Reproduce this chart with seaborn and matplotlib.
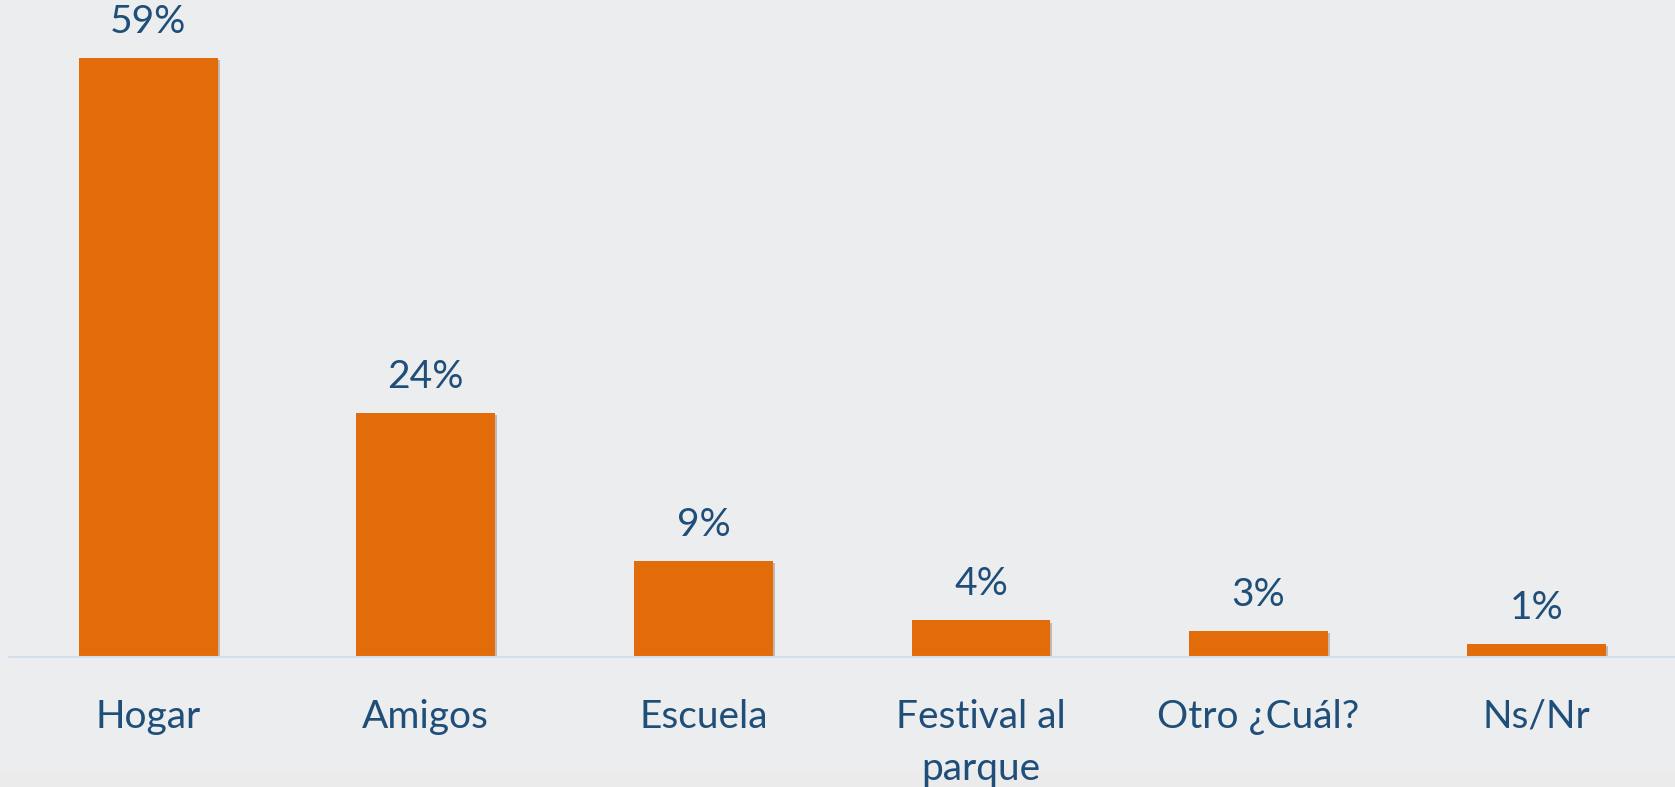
import matplotlib
matplotlib.use("Agg")
import matplotlib.pyplot as plt
import matplotlib.patheffects as pe
from matplotlib.patches import Rectangle
import seaborn as sns
import pandas as pd

categories = ["Hogar", "Amigos", "Escuela", "Festival al\nparque", "Otro ¿Cuál?", "Ns/Nr"]
values = [59, 24, 9.5, 3.6, 2.6, 1.3]
labels = ["59%", "24%", "9%", "4%", "3%", "1%"]

bg = "#ECEDEF"
bar_color = "#E36C0A"
text_color = "#1F4E79"

sns.set_theme(style="white")
plt.rcParams["font.family"] = ["Lato", "DejaVu Sans"]

fig = plt.figure(figsize=(16.75, 7.87), dpi=100, facecolor=bg)
fig.patches.append(Rectangle((0, 0), 1, 17 / 787, transform=fig.transFigure,
                             facecolor="#EBEBEC", edgecolor="none", zorder=-1))
ax = fig.add_axes([0.0056, 1 - 657 / 787, 0.9944, 657 / 787])
ax.set_facecolor("none")

df = pd.DataFrame({"cat": categories, "val": values})
sns.barplot(data=df, x="cat", y="val", color=bar_color, width=0.5, ax=ax,
            saturation=1, edgecolor="none")

for p in ax.patches:
    p.set_path_effects([pe.SimplePatchShadow(offset=(1.5, -1.5), alpha=0.25), pe.Normal()])

for i, (v, lab) in enumerate(zip(values, labels)):
    ax.annotate(lab, (i, v), xytext=(0, 18), textcoords="offset points",
                ha="center", va="baseline", fontsize=28, color=text_color)

ax.set_xlim(-0.5, 5.5)
ax.set_ylim(0, 64.7)
ax.set_xlabel("")
ax.set_ylabel("")
ax.set_yticks([])
ax.tick_params(axis="x", length=0, pad=30, labelsize=28, labelcolor=text_color)
for lbl in ax.get_xticklabels():
    lbl.set_verticalalignment("top")
    lbl.set_linespacing(1.55)
for s in ["top", "right", "left"]:
    ax.spines[s].set_visible(False)
ax.spines["bottom"].set_color("#D3DFEE")
ax.spines["bottom"].set_linewidth(1.5)

fig.savefig("out.png", dpi=100, facecolor=bg)
